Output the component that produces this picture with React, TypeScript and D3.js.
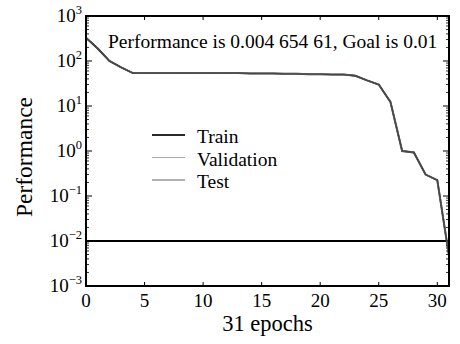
import React from "react";
import * as d3 from "d3";

// epochs and performance
const epochs = d3.range(0, 32);
const train = [330, 190, 100, 72, 54, 54, 54, 54, 54, 54, 54, 54, 54, 54, 53, 53, 53, 52, 52, 51, 51, 50, 50, 47, 37, 30, 12.3, 1.0, 0.93, 0.3, 0.225, 0.00465];
const validation = train.slice();
const test = train.slice();
const goal = 0.01;
const xTicks = [0, 5, 10, 15, 20, 25, 30];
const yExponents = [3, 2, 1, 0, -1, -2, -3];
const legendNames = ["Train", "Validation", "Test"];
const legendColors = ["#2a2a2a", "#aaaaaa", "#666666"];

export default function App() {
  const W = 460, H = 344;
  const m = { left: 86, right: 11, top: 16, bottom: 58 };
  const x = d3.scaleLinear().domain([0, 31]).range([m.left, W - m.right]);
  const y = d3.scaleLog().domain([1e-3, 1e3]).range([H - m.bottom, m.top]);

  const line = d3.line<number>().x((d, i) => x(epochs[i])).y((d) => y(d));

  // minor ticks 2..9 for each decade
  const minor: number[] = [];
  for (let e = -3; e < 3; e++) {
    for (let k = 2; k <= 9; k++) minor.push(k * Math.pow(10, e));
  }

  const font = "'Liberation Serif', 'Times New Roman', serif";
  const sup = (e: number) => (e < 0 ? "\u2212" + Math.abs(e) : String(e));

  return (
    <svg width={W} height={H} style={{ position: "absolute", left: 0, top: 0, background: "#fff" }} fontFamily={font}>
      {/* minor y ticks, left and right */}
      {minor.map((v) => (
        <g key={"mn" + v} stroke="#000" strokeWidth={0.8}>
          <line x1={x(0)} x2={x(0) + 3} y1={y(v)} y2={y(v)} />
          <line x1={x(31)} x2={x(31) - 3} y1={y(v)} y2={y(v)} />
        </g>
      ))}
      {yExponents.map((e) => (
        <g key={"y" + e}>
          <line x1={x(0)} x2={x(0) + 6} y1={y(Math.pow(10, e))} y2={y(Math.pow(10, e))} stroke="#000" />
          <line x1={x(31)} x2={x(31) - 6} y1={y(Math.pow(10, e))} y2={y(Math.pow(10, e))} stroke="#000" />
          <text x={x(0) - 4} y={y(Math.pow(10, e)) + 6} textAnchor="end" fontSize={19}>
            10
            <tspan dy={-8} fontSize={12.5}>{sup(e)}</tspan>
          </text>
        </g>
      ))}
      {xTicks.map((t) => (
        <g key={"x" + t}>
          <line x1={x(t)} x2={x(t)} y1={y(1e-3)} y2={y(1e-3) - 4} stroke="#000" />
          <line x1={x(t)} x2={x(t)} y1={y(1e3)} y2={y(1e3) + 4} stroke="#000" />
          <text x={x(t)} y={y(1e-3) + 21} textAnchor="middle" fontSize={19}>{t}</text>
        </g>
      ))}

      {/* goal */}
      <line x1={x(0)} x2={x(31)} y1={y(goal)} y2={y(goal)} stroke="#000" strokeWidth={2} />

      <path d={line(train) || ""} fill="none" stroke={legendColors[0]} strokeWidth={2} />
      <path d={line(validation) || ""} fill="none" stroke={legendColors[1]} strokeWidth={1} />
      <path d={line(test) || ""} fill="none" stroke="#444" strokeWidth={1.3} />

      <rect x={x(0)} y={y(1e3)} width={x(31) - x(0)} height={y(1e-3) - y(1e3)} fill="none" stroke="#000" strokeWidth={2} />

      <text x={108} y={48} fontSize={19.5}>Performance is 0.004 654 61, Goal is 0.01</text>

      {legendNames.map((n, i) => (
        <g key={n}>
          <line x1={152} x2={185} y1={135 + i * 22.5} y2={135 + i * 22.5} stroke={legendColors[i]} strokeWidth={i === 0 ? 2 : 1.2} />
          <text x={197} y={143 + i * 22.5} fontSize={19.5}>{n}</text>
        </g>
      ))}

      <text x={(x(0) + x(31)) / 2} y={331} textAnchor="middle" fontSize={22.5}>31 epochs</text>
      <text transform={`translate(32, ${(y(1e3) + y(1e-3)) / 2 + 6}) rotate(-90)`} textAnchor="middle" fontSize={23.5}>Performance</text>
    </svg>
  );
}
